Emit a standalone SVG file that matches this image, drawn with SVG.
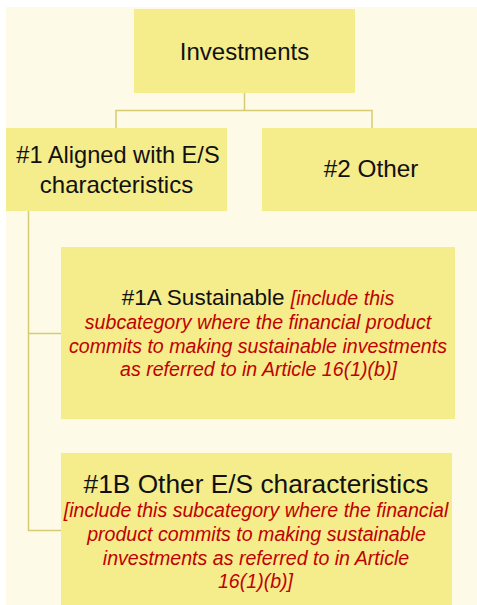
<svg xmlns="http://www.w3.org/2000/svg" width="477" height="605" viewBox="0 0 477 605">
<style>
.bg{fill:#FDFBE7}
.box{fill:#F5EC8C}
.conn{stroke:#D6CB70;stroke-width:1.5;fill:none}
.t{font-family:"Liberation Sans",Arial,sans-serif;fill:#111;text-anchor:middle}
.r{font-family:"Liberation Sans",Arial,sans-serif;fill:#C00000;font-style:italic;font-size:19.6px}
</style>
<rect class="bg" x="6" y="7" width="471" height="598"/>
<g id="connectors">
<path class="conn" d="M244.5 93V110.5M116 128V110.5H372V128"/>
<path class="conn" d="M28.5 211V530.5H61M28.5 333.5H61"/>
</g>
<g id="investments">
<rect class="box" x="134" y="9" width="221" height="84"/>
<text class="t" x="244.5" y="60" font-size="24">Investments</text>
</g>
<g id="aligned">
<rect class="box" x="6" y="128" width="221" height="83"/>
<text class="t" x="118" y="163" font-size="23.6">#1 Aligned with E/S</text>
<text class="t" x="116.5" y="193" font-size="24">characteristics</text>
</g>
<g id="other">
<rect class="box" x="262" y="128" width="215" height="83"/>
<text class="t" x="371" y="177" font-size="24.3">#2 Other</text>
</g>
<g id="sustainable">
<rect class="box" x="61" y="247" width="394" height="172"/>
<text class="t" x="258" y="305"><tspan font-size="22.5">#1A Sustainable </tspan><tspan class="r">[include this</tspan></text>
<text class="t r" x="258" y="329">subcategory where the financial product</text>
<text class="t r" x="258" y="352.5">commits to making sustainable investments</text>
<text class="t r" x="258.5" y="376">as referred to in Article 16(1)(b)]</text>
</g>
<g id="other-es">
<rect class="box" x="61" y="453" width="391" height="152"/>
<text class="t" x="256" y="493" font-size="26.3">#1B Other E/S characteristics</text>
<text class="t r" x="256" y="517">[include this subcategory where the financial</text>
<text class="t r" x="256.5" y="541">product commits to making sustainable</text>
<text class="t r" x="256" y="564.5">investments as referred to in Article</text>
<text class="t r" x="255.5" y="588">16(1)(b)]</text>
</g>
</svg>
